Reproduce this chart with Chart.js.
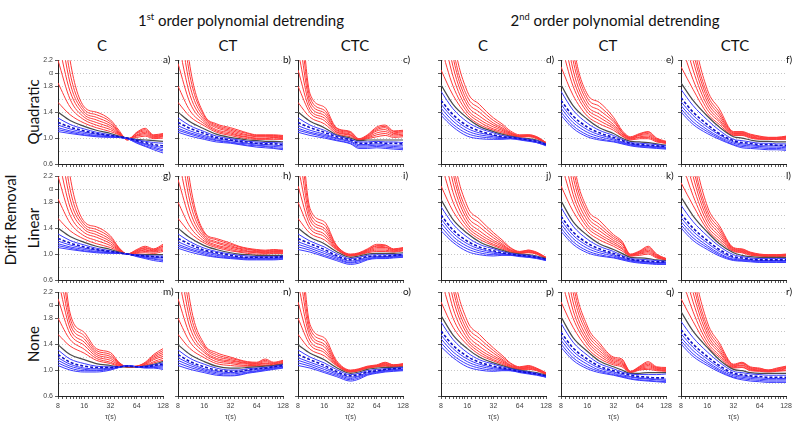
<!DOCTYPE html>
<html><head><meta charset="utf-8">
<script src="https://cdn.jsdelivr.net/npm/chart.js@4.4.0/dist/chart.umd.min.js"></script>
<style>
body{margin:0;width:796px;height:425px;background:#fff;position:relative;overflow:hidden;font-family:Lato,"Open Sans",sans-serif;}
.t{position:absolute;white-space:nowrap;color:#111;line-height:1;}
.c{transform:translate(-50%,-50%);}
.r{transform:translate(-50%,-50%) rotate(-90deg);}
canvas{position:absolute;}
sup{font-size:62%;vertical-align:0;position:relative;top:-0.6em;}
</style></head><body>
<script>
// ---- data ----
const taus = [8, 11, 16, 22, 32, 40, 50, 64, 80, 100, 128];
const xTickVals = [8,9,10,11,12,13,14,15,16,18,20,22,24,26,28,30,32,36,40,44,48,52,56,60,64,72,80,88,96,104,112,120,128];
const xMajorVals = [8, 16, 32, 64, 128];
const xMajorLabels = ['8', '16', '32', '64', '128'];
const yTickVals = [0.6, 0.8, 1.0, 1.2, 1.4, 1.6, 1.8, 2.0, 2.2];
const yTickLabels = ['0.6', '', '1.0', '', '1.4', '', '1.8', 'α', '2.2'];
const lineKinds = ['red','red','red','red','red','red','red','gray','blue','dash','blue','blue','blue','blue'];
const groupTitles = ['1st', '2nd'];
const colHeaders = ['C', 'CT', 'CTC', 'C', 'CT', 'CTC'];
const rowLabels = ['Quadratic', 'Linear', 'None'];
const panelLetters = [['a)','b)','c)','d)','e)','f)'],['g)','h)','i)','j)','k)','l)'],['m)','n)','o)','p)','q)','r)']];

const panelA = [
[3.8,2.2,1.48,1.40,1.28,1.12,0.97,1.09,1.15,1.05,1.07],
[3.3,2.0,1.44,1.36,1.25,1.10,0.97,1.08,1.13,1.04,1.06],
[2.9,1.85,1.40,1.32,1.22,1.09,0.98,1.07,1.11,1.03,1.05],
[2.5,1.72,1.36,1.28,1.19,1.08,0.98,1.05,1.09,1.02,1.04],
[2.2,1.6,1.32,1.24,1.16,1.07,0.99,1.04,1.07,1.01,1.03],
[1.85,1.48,1.28,1.20,1.13,1.06,0.99,1.03,1.05,1.00,1.02],
[1.55,1.36,1.23,1.16,1.10,1.05,0.99,1.01,1.03,0.99,1.00],
[1.40,1.27,1.18,1.12,1.07,1.03,1.00,0.98,0.97,0.96,0.95],
[1.31,1.21,1.14,1.09,1.05,1.02,1.00,0.97,0.95,0.93,0.92],
[1.24,1.17,1.11,1.07,1.04,1.02,1.00,0.96,0.93,0.90,0.88],
[1.20,1.14,1.09,1.06,1.03,1.01,0.99,0.95,0.91,0.88,0.85],
[1.16,1.11,1.07,1.04,1.02,1.01,0.99,0.94,0.90,0.86,0.82],
[1.13,1.09,1.05,1.03,1.02,1.01,0.99,0.93,0.88,0.84,0.80],
[1.10,1.07,1.04,1.02,1.01,1.01,0.99,0.92,0.87,0.82,0.77]];
const panelB = [
[3.8,2.1,1.36,1.22,1.16,1.12,1.08,1.05,1.05,1.05,1.04],
[3.3,1.95,1.34,1.20,1.14,1.10,1.07,1.04,1.04,1.04,1.03],
[2.9,1.8,1.31,1.18,1.12,1.08,1.05,1.03,1.03,1.03,1.02],
[2.5,1.66,1.28,1.16,1.10,1.06,1.04,1.02,1.02,1.02,1.01],
[2.15,1.54,1.25,1.13,1.08,1.04,1.02,1.00,1.00,1.01,1.00],
[1.8,1.42,1.22,1.11,1.06,1.03,1.01,0.99,0.99,1.00,0.99],
[1.55,1.33,1.19,1.09,1.04,1.01,0.99,0.98,0.98,0.98,0.98],
[1.40,1.25,1.14,1.06,1.01,0.99,0.97,0.96,0.95,0.95,0.94],
[1.31,1.19,1.10,1.03,0.99,0.97,0.95,0.94,0.93,0.93,0.92],
[1.24,1.15,1.07,1.01,0.97,0.95,0.94,0.92,0.91,0.91,0.90],
[1.19,1.11,1.04,0.99,0.96,0.94,0.92,0.91,0.90,0.89,0.88],
[1.15,1.08,1.02,0.97,0.94,0.92,0.91,0.89,0.88,0.87,0.86],
[1.12,1.06,1.00,0.96,0.93,0.91,0.89,0.88,0.87,0.85,0.84],
[1.09,1.03,0.98,0.94,0.92,0.90,0.88,0.86,0.85,0.84,0.82]];
const panelC = [
[3.6,1.68,1.48,1.16,1.10,0.99,1.05,1.17,1.20,1.11,1.12],
[3.1,1.62,1.43,1.15,1.09,0.98,1.04,1.15,1.18,1.10,1.11],
[2.7,1.56,1.39,1.13,1.08,0.98,1.03,1.13,1.16,1.08,1.10],
[2.35,1.50,1.35,1.12,1.06,0.97,1.02,1.11,1.13,1.07,1.08],
[2.05,1.44,1.31,1.10,1.05,0.97,1.01,1.08,1.10,1.05,1.06],
[1.80,1.39,1.27,1.09,1.04,0.97,1.00,1.05,1.07,1.03,1.04],
[1.55,1.32,1.22,1.07,1.02,0.97,0.99,1.02,1.04,1.01,1.02],
[1.40,1.26,1.16,1.05,1.00,0.96,0.97,0.97,0.97,0.97,0.97],
[1.31,1.20,1.12,1.04,0.98,0.94,0.94,0.95,0.94,0.94,0.93],
[1.24,1.16,1.09,1.02,0.97,0.92,0.92,0.93,0.92,0.92,0.91],
[1.19,1.12,1.06,1.00,0.95,0.90,0.90,0.91,0.90,0.89,0.89],
[1.15,1.09,1.04,0.99,0.94,0.88,0.88,0.89,0.88,0.87,0.86],
[1.12,1.07,1.02,0.97,0.92,0.86,0.86,0.87,0.86,0.85,0.84],
[1.09,1.04,1.00,0.96,0.91,0.84,0.84,0.85,0.84,0.83,0.82]];
const panelD = [
[4.5,2.6,1.72,1.52,1.31,1.22,1.11,1.05,1.05,1.02,0.93],
[4.0,2.4,1.64,1.46,1.27,1.19,1.09,1.04,1.05,1.02,0.93],
[3.5,2.25,1.57,1.40,1.23,1.16,1.08,1.03,1.04,1.01,0.93],
[3.1,2.1,1.51,1.34,1.20,1.14,1.07,1.03,1.04,1.01,0.92],
[2.75,1.95,1.45,1.29,1.17,1.12,1.06,1.02,1.03,1.00,0.92],
[2.4,1.8,1.40,1.25,1.14,1.10,1.05,1.02,1.03,1.00,0.92],
[2.05,1.66,1.35,1.21,1.12,1.08,1.04,1.01,1.02,0.99,0.92],
[1.82,1.52,1.31,1.18,1.10,1.06,1.03,1.00,0.99,0.97,0.91],
[1.72,1.45,1.25,1.15,1.08,1.04,1.02,1.00,0.98,0.96,0.91],
[1.58,1.36,1.19,1.11,1.05,1.02,1.01,0.99,0.97,0.95,0.90],
[1.52,1.31,1.15,1.08,1.04,1.01,1.00,0.99,0.97,0.94,0.90],
[1.46,1.26,1.11,1.05,1.02,1.00,1.00,0.98,0.96,0.94,0.89],
[1.40,1.21,1.07,1.02,1.00,0.99,0.99,0.98,0.96,0.93,0.89],
[1.35,1.17,1.03,0.99,0.98,0.98,0.99,0.97,0.95,0.93,0.88]];
const panelE = [
[4.5,2.5,1.68,1.55,1.32,1.12,1.02,1.07,1.10,1.00,0.95],
[4.0,2.35,1.62,1.49,1.28,1.10,1.01,1.06,1.09,0.99,0.94],
[3.5,2.2,1.56,1.43,1.25,1.09,1.00,1.05,1.07,0.98,0.94],
[3.1,2.05,1.50,1.37,1.21,1.07,1.00,1.04,1.05,0.97,0.93],
[2.75,1.92,1.45,1.32,1.18,1.06,0.99,1.02,1.03,0.96,0.93],
[2.45,1.80,1.40,1.27,1.15,1.04,0.98,1.01,1.01,0.95,0.92],
[2.1,1.66,1.34,1.22,1.12,1.03,0.97,0.99,0.99,0.94,0.92],
[1.82,1.50,1.29,1.16,1.07,1.00,0.95,0.94,0.93,0.91,0.89],
[1.72,1.43,1.23,1.12,1.04,0.98,0.93,0.92,0.91,0.90,0.88],
[1.58,1.34,1.17,1.08,1.01,0.96,0.92,0.90,0.89,0.88,0.87],
[1.52,1.29,1.13,1.05,0.99,0.94,0.91,0.89,0.88,0.87,0.86],
[1.46,1.24,1.09,1.02,0.97,0.93,0.90,0.88,0.87,0.86,0.85],
[1.40,1.19,1.05,0.99,0.95,0.92,0.89,0.87,0.86,0.85,0.84],
[1.35,1.15,1.02,0.97,0.94,0.91,0.88,0.86,0.85,0.84,0.83]];
const panelF = [
[4.5,2.7,1.75,1.45,1.10,1.10,1.06,1.03,1.01,1.01,1.03],
[4.0,2.5,1.68,1.40,1.09,1.09,1.05,1.02,1.01,1.01,1.02],
[3.5,2.35,1.62,1.36,1.08,1.08,1.04,1.01,1.00,1.00,1.02],
[3.1,2.2,1.56,1.32,1.07,1.07,1.03,1.00,1.00,1.00,1.01],
[2.75,2.05,1.50,1.28,1.06,1.06,1.02,0.99,0.99,0.99,1.00],
[2.45,1.9,1.44,1.25,1.05,1.05,1.01,0.99,0.98,0.98,0.99],
[2.1,1.75,1.38,1.21,1.04,1.04,1.00,0.98,0.98,0.98,0.98],
[1.85,1.58,1.34,1.17,1.02,1.00,0.97,0.95,0.95,0.94,0.94],
[1.75,1.50,1.28,1.12,0.98,0.96,0.94,0.92,0.92,0.91,0.91],
[1.62,1.40,1.21,1.07,0.96,0.93,0.92,0.90,0.90,0.89,0.89],
[1.56,1.35,1.17,1.05,0.94,0.91,0.90,0.88,0.88,0.88,0.87],
[1.50,1.30,1.13,1.02,0.92,0.89,0.88,0.87,0.86,0.86,0.85],
[1.45,1.25,1.10,1.00,0.90,0.87,0.86,0.85,0.84,0.84,0.83],
[1.40,1.21,1.07,0.98,0.89,0.85,0.84,0.83,0.82,0.82,0.81]];
const panelG = [
[3.8,2.2,1.50,1.42,1.28,1.10,1.00,1.07,1.12,1.08,1.15],
[3.3,2.0,1.46,1.38,1.25,1.09,1.00,1.06,1.10,1.07,1.13],
[2.9,1.85,1.42,1.34,1.22,1.08,1.00,1.05,1.09,1.06,1.12],
[2.5,1.72,1.38,1.30,1.19,1.07,1.00,1.04,1.07,1.05,1.10],
[2.2,1.6,1.33,1.26,1.16,1.06,1.00,1.03,1.06,1.04,1.08],
[1.85,1.48,1.28,1.21,1.13,1.05,1.00,1.02,1.04,1.03,1.06],
[1.55,1.36,1.23,1.16,1.10,1.04,1.00,1.01,1.02,1.01,1.04],
[1.40,1.27,1.18,1.12,1.07,1.03,1.00,0.99,0.99,0.99,0.99],
[1.31,1.21,1.14,1.09,1.05,1.02,1.00,0.99,0.98,0.97,0.97],
[1.24,1.17,1.11,1.07,1.04,1.02,1.00,0.98,0.97,0.96,0.95],
[1.20,1.14,1.09,1.06,1.03,1.01,1.00,0.98,0.96,0.95,0.94],
[1.16,1.11,1.07,1.04,1.02,1.01,1.00,0.97,0.95,0.93,0.92],
[1.13,1.09,1.05,1.03,1.02,1.01,1.00,0.97,0.94,0.92,0.90],
[1.10,1.07,1.04,1.02,1.01,1.01,1.00,0.96,0.93,0.90,0.88]];
const panelH = [
[3.8,2.1,1.34,1.24,1.17,1.12,1.09,1.07,1.06,1.07,1.06],
[3.3,1.95,1.32,1.22,1.15,1.11,1.08,1.06,1.05,1.06,1.05],
[2.9,1.8,1.29,1.19,1.13,1.09,1.07,1.05,1.04,1.05,1.05],
[2.5,1.66,1.26,1.17,1.11,1.08,1.05,1.04,1.03,1.04,1.04],
[2.15,1.54,1.23,1.14,1.09,1.06,1.04,1.03,1.02,1.03,1.03],
[1.8,1.42,1.20,1.12,1.07,1.04,1.03,1.02,1.01,1.02,1.02],
[1.55,1.33,1.17,1.10,1.05,1.03,1.01,1.00,1.00,1.01,1.01],
[1.40,1.25,1.13,1.07,1.02,1.00,0.99,0.98,0.98,0.98,0.98],
[1.31,1.19,1.09,1.04,1.00,0.98,0.97,0.96,0.96,0.96,0.97],
[1.24,1.15,1.06,1.02,0.98,0.96,0.95,0.95,0.95,0.95,0.96],
[1.19,1.11,1.04,1.00,0.96,0.95,0.94,0.94,0.94,0.94,0.95],
[1.15,1.08,1.02,0.98,0.95,0.94,0.93,0.93,0.93,0.93,0.94],
[1.12,1.06,1.00,0.96,0.94,0.93,0.92,0.92,0.92,0.92,0.93],
[1.09,1.03,0.98,0.95,0.93,0.92,0.91,0.91,0.91,0.91,0.92]];
const panelI = [
[3.6,1.70,1.50,1.14,1.00,1.02,1.08,1.15,1.14,1.08,1.10],
[3.1,1.64,1.45,1.13,0.99,1.01,1.07,1.13,1.13,1.07,1.09],
[2.7,1.58,1.40,1.12,0.99,1.01,1.06,1.12,1.11,1.07,1.09],
[2.35,1.52,1.36,1.10,0.98,1.00,1.05,1.10,1.10,1.06,1.08],
[2.05,1.45,1.31,1.09,0.98,1.00,1.04,1.08,1.08,1.05,1.07],
[1.80,1.39,1.27,1.08,0.97,0.99,1.03,1.06,1.06,1.04,1.06],
[1.55,1.32,1.22,1.07,0.97,0.99,1.02,1.04,1.04,1.03,1.05],
[1.40,1.26,1.16,1.04,0.95,0.97,1.00,1.01,1.01,1.01,1.02],
[1.31,1.20,1.11,1.01,0.93,0.95,0.98,0.99,0.99,0.99,1.00],
[1.24,1.16,1.07,0.98,0.91,0.93,0.96,0.97,0.97,0.98,0.99],
[1.19,1.12,1.04,0.96,0.89,0.91,0.95,0.96,0.96,0.97,0.98],
[1.15,1.09,1.01,0.94,0.87,0.90,0.93,0.95,0.95,0.96,0.97],
[1.11,1.06,0.98,0.92,0.86,0.88,0.92,0.94,0.94,0.95,0.96],
[1.07,1.03,0.96,0.90,0.84,0.86,0.91,0.93,0.93,0.94,0.95]];
const panelJ = [
[4.5,2.6,1.74,1.54,1.33,1.22,1.10,1.04,1.06,1.03,0.95],
[4.0,2.4,1.66,1.48,1.29,1.19,1.09,1.03,1.06,1.02,0.95],
[3.5,2.25,1.59,1.42,1.25,1.16,1.07,1.03,1.05,1.02,0.94],
[3.1,2.1,1.53,1.36,1.21,1.14,1.06,1.02,1.04,1.01,0.94],
[2.75,1.95,1.47,1.31,1.18,1.12,1.05,1.02,1.03,1.01,0.94],
[2.4,1.8,1.42,1.27,1.15,1.10,1.04,1.01,1.03,1.00,0.93],
[2.05,1.66,1.37,1.23,1.13,1.08,1.03,1.01,1.02,1.00,0.93],
[1.84,1.53,1.32,1.19,1.10,1.06,1.02,1.00,0.99,0.97,0.93],
[1.73,1.46,1.26,1.15,1.08,1.04,1.01,0.99,0.98,0.96,0.92],
[1.60,1.37,1.20,1.11,1.05,1.02,1.00,0.98,0.97,0.95,0.92],
[1.54,1.32,1.16,1.08,1.03,1.01,0.99,0.98,0.96,0.95,0.91],
[1.48,1.27,1.12,1.05,1.01,1.00,0.99,0.97,0.96,0.94,0.91],
[1.42,1.22,1.08,1.02,0.99,0.99,0.98,0.97,0.95,0.94,0.90],
[1.36,1.18,1.04,0.99,0.97,0.98,0.98,0.96,0.95,0.93,0.90]];
const panelK = [
[4.5,2.5,1.70,1.52,1.30,1.20,1.00,1.05,1.12,1.00,0.93],
[4.0,2.35,1.64,1.46,1.27,1.18,0.99,1.04,1.10,0.99,0.93],
[3.5,2.2,1.58,1.41,1.24,1.16,0.99,1.03,1.08,0.98,0.92],
[3.1,2.05,1.52,1.36,1.21,1.13,0.98,1.02,1.06,0.97,0.92],
[2.75,1.92,1.46,1.31,1.18,1.10,0.98,1.01,1.04,0.96,0.92],
[2.4,1.80,1.41,1.27,1.15,1.08,0.97,1.00,1.02,0.95,0.91],
[2.05,1.66,1.35,1.22,1.12,1.05,0.97,0.98,1.00,0.94,0.91],
[1.82,1.50,1.29,1.16,1.07,1.01,0.95,0.94,0.93,0.91,0.90],
[1.72,1.43,1.23,1.12,1.04,0.98,0.93,0.92,0.91,0.90,0.89],
[1.58,1.34,1.17,1.08,1.01,0.96,0.92,0.90,0.89,0.88,0.88],
[1.52,1.29,1.13,1.05,0.99,0.94,0.91,0.89,0.88,0.87,0.87],
[1.46,1.24,1.09,1.02,0.97,0.93,0.90,0.88,0.87,0.86,0.86],
[1.40,1.19,1.05,0.99,0.95,0.92,0.89,0.87,0.86,0.85,0.85],
[1.35,1.15,1.02,0.97,0.94,0.91,0.88,0.86,0.85,0.84,0.84]];
const panelL = [
[4.5,2.7,1.74,1.44,1.10,1.08,1.03,1.00,0.99,0.99,1.00],
[4.0,2.5,1.67,1.40,1.09,1.07,1.02,0.99,0.99,0.99,0.99],
[3.5,2.35,1.61,1.36,1.08,1.06,1.02,0.99,0.98,0.98,0.99],
[3.1,2.2,1.55,1.32,1.07,1.05,1.01,0.98,0.98,0.98,0.98],
[2.75,2.05,1.49,1.28,1.06,1.04,1.00,0.98,0.97,0.97,0.98],
[2.45,1.9,1.43,1.24,1.05,1.03,0.99,0.97,0.97,0.97,0.97],
[2.1,1.75,1.38,1.20,1.04,1.02,0.98,0.97,0.96,0.96,0.97],
[1.88,1.59,1.34,1.16,1.02,0.98,0.96,0.95,0.95,0.95,0.95],
[1.75,1.50,1.28,1.12,0.99,0.96,0.94,0.93,0.93,0.93,0.93],
[1.62,1.40,1.21,1.07,0.96,0.94,0.92,0.91,0.91,0.91,0.91],
[1.56,1.35,1.17,1.04,0.94,0.92,0.91,0.90,0.90,0.90,0.90],
[1.50,1.30,1.13,1.01,0.92,0.91,0.90,0.89,0.89,0.89,0.89],
[1.45,1.25,1.10,0.99,0.91,0.90,0.89,0.88,0.88,0.88,0.88],
[1.40,1.21,1.07,0.97,0.90,0.89,0.88,0.87,0.87,0.87,0.87]];
const panelM = [
[3.6,1.88,1.58,1.33,1.27,1.12,1.05,1.06,1.12,1.24,1.33],
[3.1,1.80,1.53,1.30,1.24,1.11,1.05,1.06,1.11,1.22,1.30],
[2.7,1.72,1.48,1.27,1.21,1.10,1.05,1.06,1.10,1.20,1.27],
[2.4,1.64,1.43,1.24,1.18,1.09,1.05,1.05,1.09,1.18,1.24],
[2.1,1.56,1.38,1.21,1.15,1.08,1.05,1.05,1.08,1.16,1.21],
[1.8,1.47,1.32,1.18,1.12,1.07,1.05,1.05,1.07,1.13,1.18],
[1.55,1.37,1.26,1.15,1.10,1.06,1.05,1.05,1.06,1.11,1.15],
[1.39,1.24,1.16,1.10,1.07,1.05,1.05,1.05,1.06,1.09,1.13],
[1.31,1.17,1.10,1.06,1.05,1.05,1.06,1.05,1.06,1.08,1.11],
[1.24,1.12,1.06,1.04,1.04,1.05,1.06,1.05,1.05,1.07,1.09],
[1.19,1.09,1.03,1.02,1.03,1.04,1.07,1.05,1.05,1.06,1.07],
[1.15,1.06,1.01,1.00,1.02,1.04,1.07,1.05,1.04,1.05,1.05],
[1.11,1.03,0.99,0.99,1.01,1.04,1.07,1.05,1.04,1.04,1.03],
[1.07,1.00,0.97,0.97,1.00,1.04,1.07,1.05,1.03,1.03,1.01]];
const panelN = [
[3.7,2.05,1.40,1.27,1.20,1.16,1.13,1.12,1.17,1.12,1.15],
[3.2,1.90,1.37,1.24,1.18,1.15,1.12,1.11,1.15,1.11,1.14],
[2.8,1.77,1.34,1.21,1.16,1.13,1.11,1.10,1.13,1.10,1.13],
[2.45,1.65,1.30,1.18,1.14,1.12,1.10,1.09,1.11,1.09,1.12],
[2.1,1.54,1.27,1.16,1.12,1.10,1.09,1.08,1.10,1.08,1.11],
[1.8,1.43,1.23,1.13,1.10,1.08,1.07,1.07,1.08,1.07,1.10],
[1.55,1.33,1.19,1.10,1.07,1.06,1.06,1.06,1.07,1.06,1.09],
[1.39,1.24,1.13,1.06,1.03,1.03,1.04,1.05,1.06,1.07,1.09],
[1.31,1.18,1.09,1.03,1.00,1.00,1.02,1.03,1.04,1.06,1.08],
[1.24,1.13,1.05,1.00,0.98,0.98,1.00,1.02,1.03,1.05,1.07],
[1.19,1.10,1.02,0.98,0.96,0.97,0.99,1.01,1.02,1.04,1.06],
[1.15,1.07,1.00,0.96,0.94,0.95,0.97,0.99,1.01,1.03,1.05],
[1.11,1.04,0.98,0.94,0.92,0.93,0.96,0.98,1.00,1.02,1.04],
[1.07,1.01,0.96,0.92,0.91,0.92,0.95,0.97,0.99,1.01,1.03]];
const panelO = [
[3.6,1.70,1.50,1.15,1.00,1.02,1.06,1.08,1.12,1.08,1.10],
[3.1,1.64,1.45,1.13,0.99,1.01,1.05,1.07,1.11,1.08,1.09],
[2.7,1.58,1.40,1.12,0.99,1.01,1.05,1.07,1.10,1.07,1.09],
[2.35,1.52,1.36,1.10,0.98,1.00,1.04,1.06,1.09,1.07,1.08],
[2.05,1.45,1.31,1.09,0.98,1.00,1.04,1.06,1.08,1.06,1.08],
[1.80,1.39,1.27,1.08,0.97,0.99,1.03,1.05,1.07,1.06,1.07],
[1.55,1.32,1.22,1.07,0.97,0.99,1.03,1.05,1.06,1.05,1.06],
[1.39,1.26,1.16,1.04,0.95,0.97,1.01,1.03,1.04,1.04,1.05],
[1.31,1.20,1.11,1.01,0.93,0.95,0.99,1.01,1.02,1.03,1.04],
[1.24,1.16,1.07,0.98,0.91,0.93,0.97,0.99,1.01,1.02,1.03],
[1.19,1.12,1.04,0.96,0.89,0.91,0.96,0.98,1.00,1.01,1.02],
[1.15,1.09,1.01,0.94,0.87,0.90,0.94,0.97,0.99,1.00,1.01],
[1.11,1.06,0.98,0.92,0.85,0.88,0.93,0.96,0.98,0.99,1.00],
[1.07,1.03,0.96,0.90,0.83,0.86,0.92,0.95,0.97,0.98,0.99]];
const panelP = [
[4.5,2.6,1.76,1.55,1.34,1.23,1.11,1.05,1.07,1.03,0.96],
[4.0,2.4,1.68,1.49,1.30,1.20,1.10,1.04,1.06,1.02,0.95],
[3.5,2.25,1.61,1.43,1.26,1.17,1.08,1.04,1.05,1.02,0.95],
[3.1,2.1,1.55,1.37,1.22,1.15,1.07,1.03,1.04,1.01,0.94],
[2.75,1.95,1.49,1.32,1.19,1.13,1.06,1.02,1.03,1.00,0.94],
[2.4,1.8,1.44,1.28,1.16,1.11,1.05,1.02,1.02,1.00,0.93],
[2.05,1.66,1.39,1.24,1.14,1.09,1.04,1.01,1.01,0.99,0.93],
[1.84,1.54,1.33,1.20,1.11,1.07,1.03,1.00,0.98,0.96,0.92],
[1.74,1.47,1.27,1.16,1.09,1.05,1.02,0.99,0.97,0.95,0.91],
[1.60,1.38,1.21,1.12,1.06,1.03,1.01,0.98,0.96,0.94,0.91],
[1.54,1.33,1.17,1.09,1.04,1.02,1.00,0.98,0.96,0.94,0.90],
[1.48,1.28,1.13,1.06,1.02,1.01,1.00,0.97,0.95,0.93,0.90],
[1.42,1.23,1.09,1.03,1.00,1.00,0.99,0.97,0.95,0.93,0.89],
[1.36,1.19,1.05,1.00,0.98,0.99,0.99,0.96,0.94,0.92,0.89]];
const panelQ = [
[4.5,2.5,1.68,1.42,1.20,1.17,0.98,1.06,1.13,1.05,1.04],
[4.0,2.35,1.62,1.38,1.18,1.15,0.98,1.05,1.11,1.04,1.03],
[3.5,2.2,1.56,1.34,1.16,1.13,0.97,1.04,1.09,1.03,1.02],
[3.1,2.05,1.50,1.30,1.14,1.11,0.97,1.03,1.07,1.02,1.01],
[2.75,1.92,1.45,1.26,1.12,1.09,0.97,1.02,1.05,1.01,1.00],
[2.4,1.80,1.40,1.22,1.10,1.07,0.97,1.01,1.03,1.00,0.99],
[2.05,1.66,1.34,1.18,1.08,1.05,0.96,1.00,1.01,0.99,0.98],
[1.82,1.50,1.29,1.14,1.05,1.00,0.95,0.95,0.96,0.96,0.96],
[1.72,1.43,1.23,1.10,1.02,0.97,0.94,0.93,0.93,0.93,0.94],
[1.58,1.34,1.17,1.06,0.99,0.95,0.92,0.90,0.89,0.88,0.88],
[1.52,1.29,1.13,1.03,0.97,0.93,0.90,0.88,0.87,0.86,0.86],
[1.46,1.24,1.09,1.00,0.95,0.91,0.89,0.87,0.86,0.85,0.84],
[1.40,1.19,1.05,0.98,0.93,0.90,0.87,0.85,0.84,0.83,0.82],
[1.35,1.15,1.02,0.96,0.92,0.89,0.86,0.84,0.83,0.82,0.81]];
const panelR = [
[4.5,2.7,1.74,1.42,1.09,1.12,1.05,1.03,1.00,1.03,1.06],
[4.0,2.5,1.67,1.38,1.08,1.11,1.04,1.02,1.00,1.02,1.05],
[3.5,2.35,1.61,1.34,1.07,1.10,1.03,1.01,0.99,1.01,1.04],
[3.1,2.2,1.55,1.30,1.06,1.08,1.02,1.00,0.99,1.00,1.03],
[2.75,2.05,1.49,1.27,1.05,1.07,1.01,0.99,0.98,0.99,1.02],
[2.45,1.9,1.43,1.23,1.04,1.05,1.00,0.99,0.98,0.99,1.00],
[2.1,1.75,1.38,1.20,1.03,1.04,0.99,0.98,0.97,0.98,0.99],
[1.90,1.60,1.35,1.16,1.01,0.99,0.96,0.95,0.95,0.95,0.95],
[1.75,1.50,1.28,1.12,0.98,0.96,0.94,0.93,0.92,0.92,0.92],
[1.62,1.40,1.21,1.07,0.95,0.93,0.91,0.90,0.89,0.89,0.89],
[1.56,1.35,1.17,1.04,0.93,0.91,0.89,0.88,0.87,0.87,0.87],
[1.50,1.30,1.13,1.01,0.91,0.89,0.87,0.86,0.85,0.85,0.85],
[1.45,1.25,1.10,0.99,0.89,0.87,0.85,0.84,0.83,0.83,0.83],
[1.40,1.21,1.07,0.97,0.88,0.85,0.83,0.82,0.81,0.81,0.81]];

const panelGrid = [
  [panelA, panelB, panelC, panelD, panelE, panelF],
  [panelG, panelH, panelI, panelJ, panelK, panelL],
  [panelM, panelN, panelO, panelP, panelQ, panelR]
];

// ---- layout ----
const colLeft = [58, 178, 298, 441, 561, 681];
const rowTop = [60, 176, 292];
const PW = 105, PH = 104;
const padL = 26, padT = 6, padR = 10;
const headerX = [102, 228, 355, 483, 608, 735];

const styles = {
  red:  {borderColor: '#ff3a3a', borderWidth: 1, order: 3},
  gray: {borderColor: '#4a4a4a', borderWidth: 1.2, order: 2},
  blue: {borderColor: '#3a3aff', borderWidth: 1, order: 1},
  dash: {borderColor: '#1010c8', borderWidth: 1.6, borderDash: [3, 2], order: 0}
};

function addText(html, x, y, size, cls, extra) {
  const d = document.createElement('div');
  d.className = 't ' + cls;
  d.style.left = x + 'px';
  d.style.top = y + 'px';
  d.style.fontSize = size + 'px';
  if (extra) Object.assign(d.style, extra);
  d.innerHTML = html;
  document.body.appendChild(d);
}

function makePanel(lines, row, col) {
  const bottom = row === 2;
  const padB = bottom ? 27 : 8;
  const W = padL + PW + padR, H = padT + PH + padB;
  const cv = document.createElement('canvas');
  cv.width = W; cv.height = H;
  cv.style.left = (colLeft[col] - padL) + 'px';
  cv.style.top = (rowTop[row] - padT) + 'px';
  cv.style.width = W + 'px'; cv.style.height = H + 'px';
  document.body.appendChild(cv);
  const datasets = lines.map((vals, i) => {
    const st = styles[lineKinds[i]];
    return Object.assign({
      data: taus.map((t, j) => ({x: t, y: vals[j]})),
      pointRadius: 0, fill: false, cubicInterpolationMode: 'monotone', clip: 0
    }, st);
  });
  new Chart(cv, {
    type: 'line',
    data: {datasets},
    options: {
      responsive: false, animation: false, events: [],
      layout: {padding: {left: 0, top: padT, right: padR, bottom: 0}},
      plugins: {legend: {display: false}, tooltip: {enabled: false}},
      scales: {
        x: {
          type: 'logarithmic', min: 8, max: 128, position: 'bottom',
          afterBuildTicks: s => { s.ticks = xTickVals.map(v => ({value: v})); },
          afterFit: s => { s.height = padB; },
          ticks: {autoSkip: false, maxRotation: 0, minRotation: 0, padding: 3,
            font: {size: 7, family: 'Arial'}, color: '#444',
            callback: v => { if (!bottom) return ''; const k = xMajorVals.indexOf(v); return k >= 0 ? xMajorLabels[k] : ''; }},
          grid: {drawOnChartArea: false, tickLength: 3, tickColor: '#333', tickWidth: 0.8},
          border: {color: '#222', width: 1},
          title: {display: bottom, text: 'τ(s)', font: {size: 7, family: 'Arial'}, color: '#444', padding: {top: 1, bottom: 2}}
        },
        y: {
          min: 0.6, max: 2.2,
          afterBuildTicks: s => { s.ticks = yTickVals.map(v => ({value: v})); },
          afterFit: s => { s.width = padL; },
          ticks: {autoSkip: false, padding: 2, font: {size: 7, family: 'Arial'}, color: '#444',
            callback: (v, i) => col === 0 ? yTickLabels[i] : ''},
          grid: {color: c => c.index === 0 ? 'rgba(0,0,0,0)' : '#b8b8b8', lineWidth: 0.8, tickLength: 3,
            tickColor: c => yTickLabels[c.index] ? '#333' : 'rgba(0,0,0,0)'},
          border: {color: '#222', width: 1, dash: [1, 2]}
        }
      }
    }
  });
  addText(panelLetters[row][col], colLeft[col] + PW + 0, rowTop[row] - 6, 10, '', {});
}

// titles
addText(groupTitles[0].replace(/(\d)(st)/, '$1<sup>$2</sup>') + ' order polynomial detrending', 241, 20, 15, 'c');
addText(groupTitles[1].replace(/(\d)(nd)/, '$1<sup>$2</sup>') + ' order polynomial detrending', 615, 20, 15, 'c');
colHeaders.forEach((h, i) => addText(h, headerX[i], 45, 15, 'c'));
addText('Drift Removal', 10, 220, 15, 'r');
rowLabels.forEach((r, i) => addText(r, 33, rowTop[i] + PH / 2, 15, 'r'));

for (let r = 0; r < 3; r++) for (let c = 0; c < 6; c++) makePanel(panelGrid[r][c], r, c);
</script>
</body></html>
